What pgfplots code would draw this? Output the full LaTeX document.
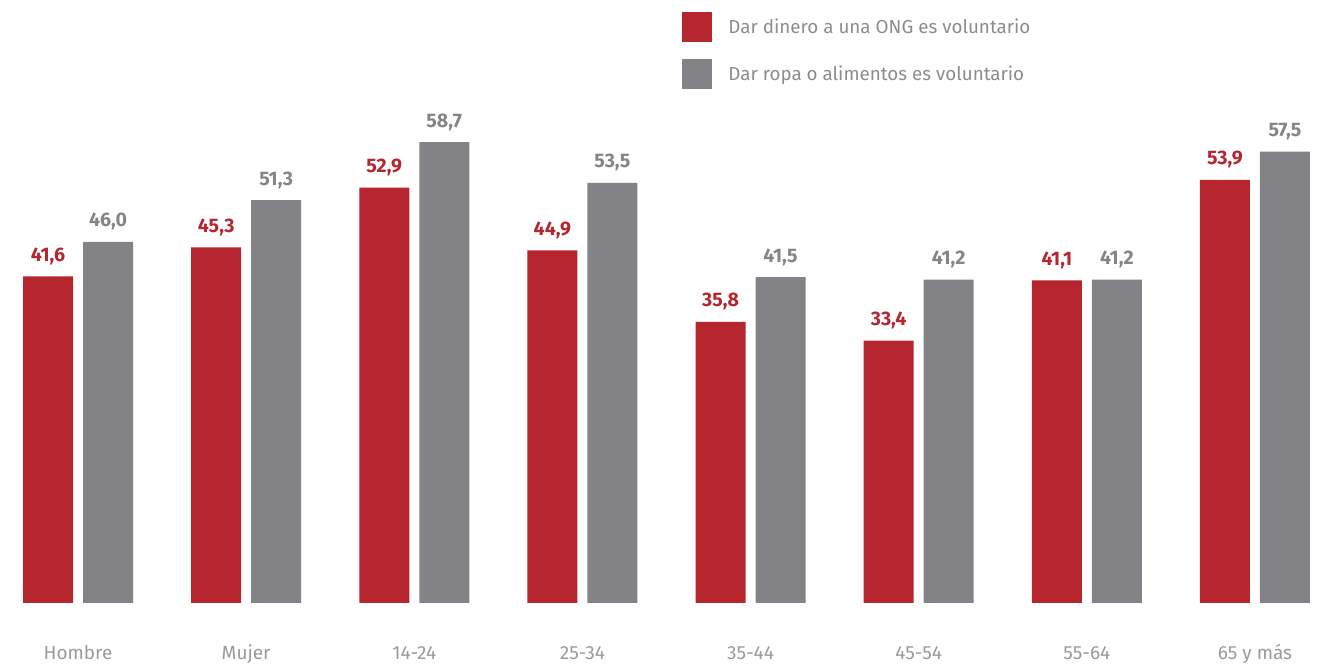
\documentclass[border=0pt]{standalone}
\usepackage{pgfplots}
\pgfplotsset{compat=1.18}
\usepackage{fontspec}
\setmainfont{Fira Sans}
\definecolor{rojo}{HTML}{B5262F}
\definecolor{gris}{HTML}{838387}
\definecolor{grisnum}{HTML}{858585}
\definecolor{grisleg}{HTML}{8C8C8C}
\definecolor{griscat}{HTML}{9A9A9A}

\begin{document}
\begin{tikzpicture}
\begin{axis}[
    scale only axis, width=659.5pt, height=301.5pt,
    xmin=-0.464, xmax=7.381, ymin=0, ymax=76.8,
    ybar=5pt, bar width=25pt,
    hide y axis,
    axis x line*=bottom, x axis line style={draw=none},
    major tick length=0pt,
    xtick={0,...,7},
    xticklabels={Hombre,Mujer,14-24,25-34,35-44,45-54,55-64,65 y más},
    xticklabel style={anchor=base, yshift=-28.5pt, text=griscat,
        font=\fontsize{9.5}{11}\selectfont},
    clip=false,
    nodes near coords,
    nodes near coords style={anchor=base, yshift=7.5pt,
        font=\bfseries\fontsize{9.8}{11}\selectfont},
    /pgf/number format/fixed,
    /pgf/number format/fixed zerofill,
    /pgf/number format/precision=1,
    /pgf/number format/use comma,
    /pgf/number format/assume math mode=true,
    legend style={draw=none, fill=none, at={(0.5171,0.9801)}, anchor=north west,
        inner sep=0pt, row sep=8.5pt, column sep=8pt,
        nodes={inner sep=0pt, text=grisleg},
        font=\fontsize{9.4}{11}\selectfont},
    legend cell align=left,
]
\addplot[fill=rojo, draw=none, every node near coord/.append style={text=rojo},
    legend image code/.code={\fill[rojo] (0pt,-7.5pt) rectangle (15pt,7.5pt);}]
    coordinates {(0,41.6) (1,45.3) (2,52.9) (3,44.9) (4,35.8) (5,33.4) (6,41.1) (7,53.9)};
\addplot[fill=gris, draw=none, every node near coord/.append style={text=grisnum},
    legend image code/.code={\fill[gris] (0pt,-7.5pt) rectangle (15pt,7.5pt);}]
    coordinates {(0,46.0) (1,51.3) (2,58.7) (3,53.5) (4,41.5) (5,41.2) (6,41.2) (7,57.5)};
\legend{Dar dinero a una ONG es voluntario, Dar ropa o alimentos es voluntario}
% keep the full frame of the reference in the bounding box
\path (rel axis cs:0,1) -- (rel axis cs:1,1);
\path (rel axis cs:0,0) ++(0pt,-31pt);
\end{axis}
\end{tikzpicture}
\end{document}
